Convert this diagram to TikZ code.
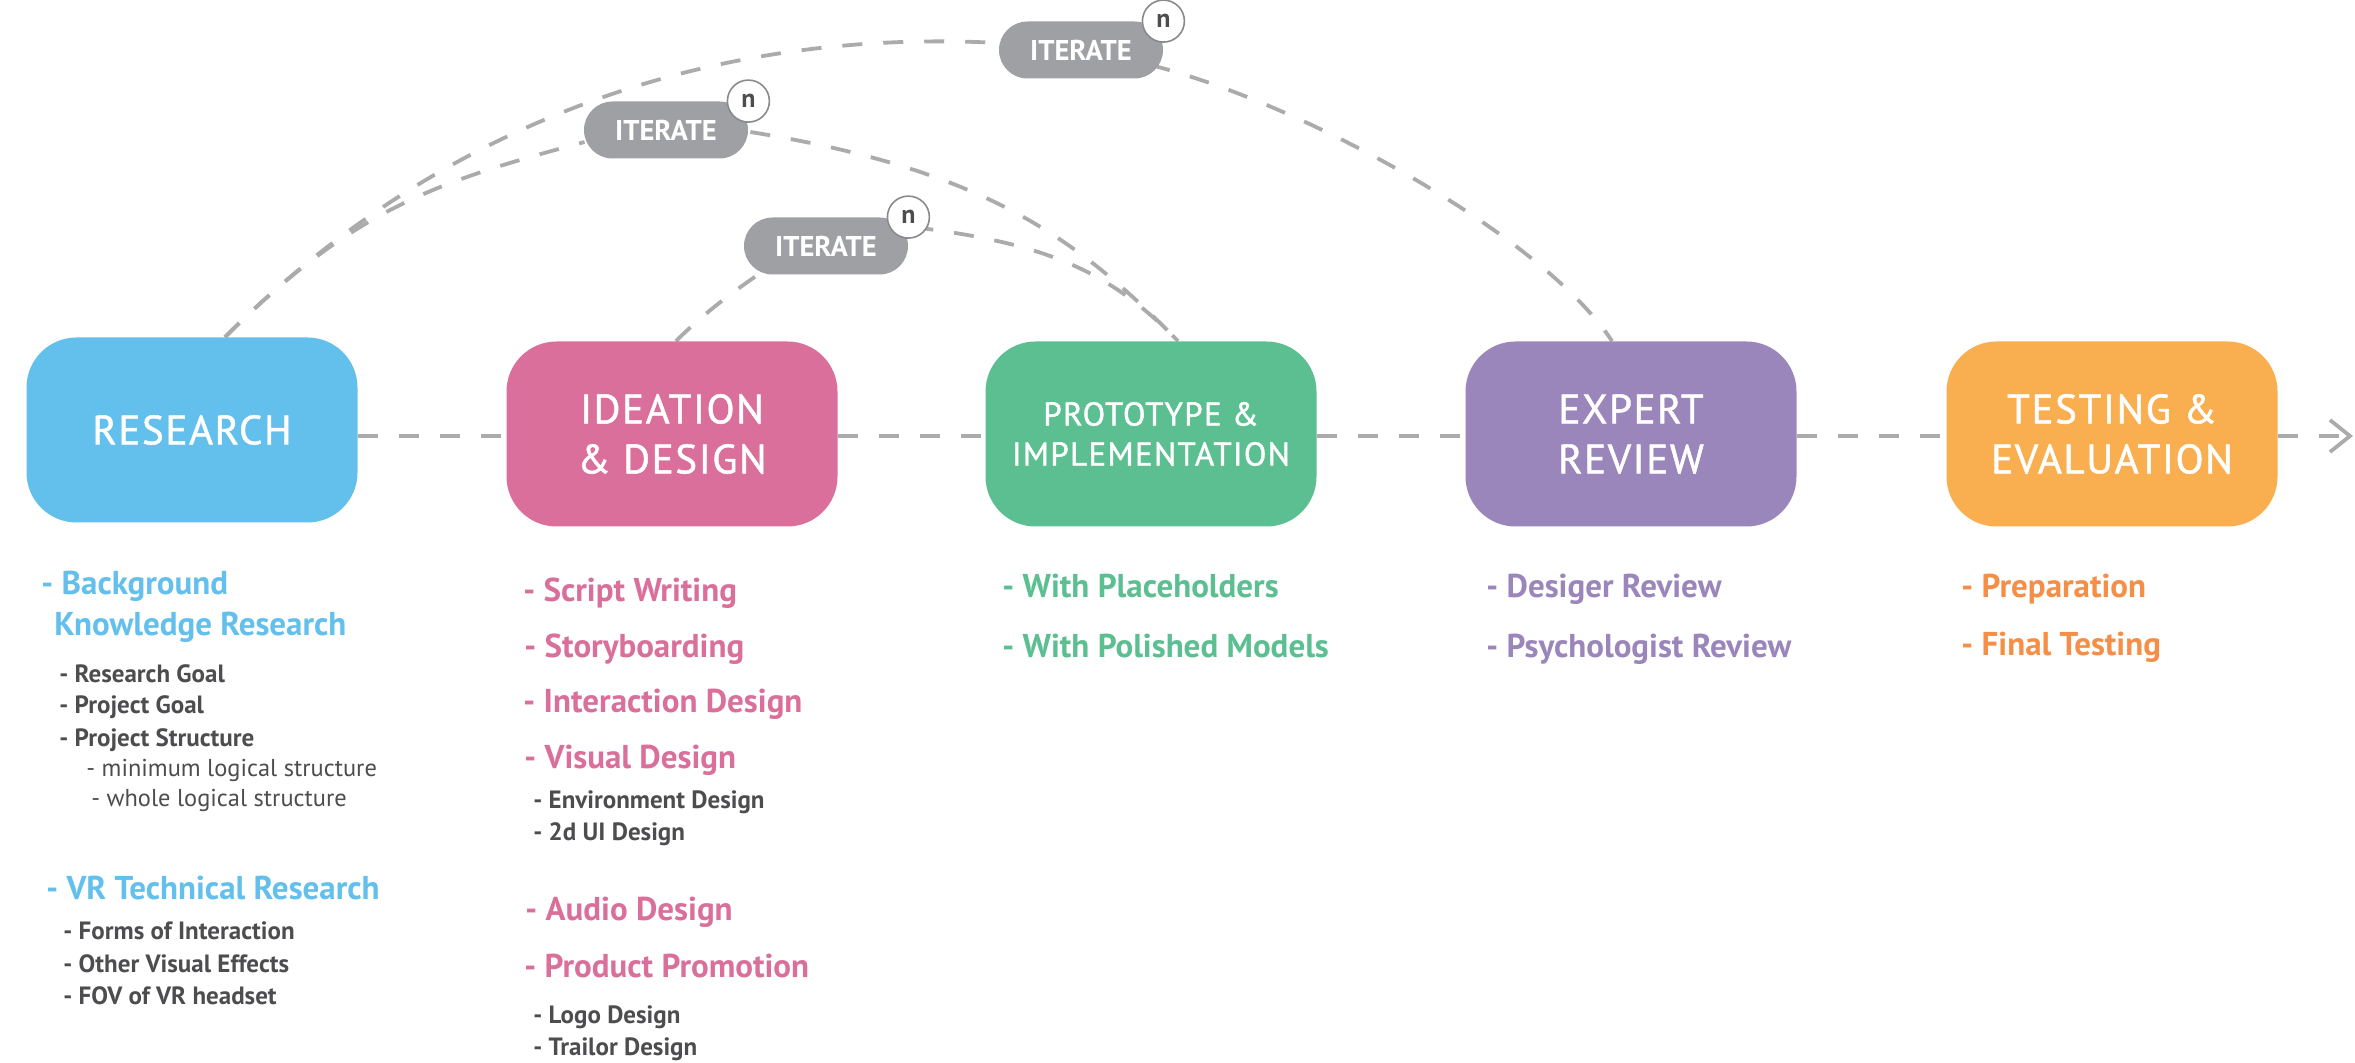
\documentclass[tikz,border=0pt]{standalone}
\usepackage{fontspec}
\setmainfont{PT Sans}
\newfontfamily\titlefont[LetterSpace=4,FakeBold=1.2]{PT Sans}
\usetikzlibrary{calc,arrows.meta}
\definecolor{cblue}{HTML}{63BFEC}
\definecolor{cpink}{HTML}{D96F9A}
\definecolor{cgreen}{HTML}{5BBF92}
\definecolor{cpurple}{HTML}{9B86BC}
\definecolor{corange}{HTML}{F9AF4F}
\definecolor{torange}{HTML}{F58E47}
\definecolor{tgray}{HTML}{4D4D4F}
\definecolor{pillgray}{HTML}{9FA0A3}
\definecolor{lgray}{HTML}{ABABAB}
\definecolor{circgray}{HTML}{8A8A8D}
\pgfdeclarelayer{bg}
\pgfdeclarelayer{back}
\pgfsetlayers{back,bg,main}
\begin{document}
\begin{tikzpicture}[x=0.5pt,y=-0.5pt,
  stage/.style={rectangle, rounded corners=25pt, minimum width=165.5pt, minimum height=92.5pt,
    inner sep=0pt, text=white, align=center, font=\titlefont\fontsize{20.5}{25}\selectfont},
  pill/.style={rectangle, rounded corners=14.25pt, fill=pillgray, minimum width=82pt,
    minimum height=28.5pt, inner sep=0pt, text=white, font=\bfseries\fontsize{14.3}{14.3}\selectfont},
  ncirc/.style={circle, draw=circgray, line width=0.8pt, fill=white, minimum size=21pt,
    inner sep=0pt, text=tgray, font=\bfseries\fontsize{13}{13}\selectfont},
  dline/.style={draw=lgray, line width=1.9pt, dash pattern=on 10pt off 10.5pt},
  head/.style={anchor=base west, inner sep=0pt, font=\bfseries\fontsize{16.5}{20}\selectfont},
  sub/.style={anchor=base west, inner sep=0pt, text=tgray, font=\bfseries\fontsize{12.5}{15}\selectfont},
  subr/.style={anchor=base west, inner sep=0pt, text=tgray, font=\fontsize{12.2}{15}\selectfont}]
\begin{pgfonlayer}{back}
\fill[white] (0,0) rectangle (2355,1063);
\end{pgfonlayer}
\useasboundingbox (0,0) rectangle (2355,1063);

% stages
\node[stage, fill=cblue] (research) at (192,430) {RESEARCH};
\node[stage, fill=cpink] (ideation) at (672,434) {IDEATION\\\& DESIGN};
\node[stage, fill=cgreen, font=\titlefont\fontsize{16.5}{20}\selectfont] (proto) at (1151,434) {PROTOTYPE \&\\IMPLEMENTATION};
\node[stage, fill=cpurple] (expert) at (1631,434) {EXPERT\\REVIEW};
\node[stage, fill=corange] (testing) at (2112,434) {TESTING \&\\EVALUATION};
\coordinate (arrowend) at (2353,436);

% iterate pills
\node[pill] (it1) at (826,246) {ITERATE};
\node[pill] (it2) at (666,130) {ITERATE};
\node[pill] (it3) at (1081,50) {ITERATE};
\node[ncirc] (n1) at (it1.north east) {n};
\node[ncirc] (n2) at (it2.north east) {n};
\node[ncirc] (n3) at (it3.north east) {n};

% connectors
\begin{pgfonlayer}{bg}
\draw[dline] ($(research.east |- ideation.west)+(0,2)$) -- ($(ideation.west)+(0,2)$);
\draw[dline] ($(ideation.east)+(0,2)$) -- ($(proto.west)+(0,2)$);
\draw[dline] ($(proto.east)+(0,2)$) -- ($(expert.west)+(0,2)$);
\draw[dline] ($(expert.east)+(0,2)$) -- ($(testing.west)+(0,2)$);
\draw[dline, -{Straight Barb[length=10pt,width=16pt,line width=1.9pt]}] ($(testing.east)+(0,2)$) -- (arrowend);

\draw[dline] ($(research.north)+(33,0)$) .. controls +(220,-220) and +(-279,-15) .. ($(it3.west)+(0,-7)$);
\draw[dline] ($(it3.east)+(-13,15)$) .. controls +(155,39) and +(-68,-104) .. ($(expert.north)+(-19,0)$);
\draw[dline] ($(research.north)+(33,0)$) .. controls +(130,-130) and +(-145,39) .. ($(it2.west)+(1,12)$);
\draw[dline] ($(it2.east)+(2,2)$) .. controls +(228,37) and +(-105,-108) .. ($(proto.north)+(27,0)$);
\draw[dline] ($(ideation.north)+(4,0)$) .. controls +(30,-30) and +(-30,20) .. ($(it1.south west)+(26,-8)$);
\draw[dline] ($(n1.center)+(5,10)$) .. controls +(130,16) and +(-70,-72) .. ($(proto.north)+(27,0)$);
\end{pgfonlayer}

% research list
\node[head, text=cblue] (r1) at (41,595) {- Background};
\node[head, text=cblue] (r2) at (54,635) {Knowledge Research};
\node[sub] (r3) at (59,682) {- Research Goal};
\node[sub] (r4) at (59,713) {- Project Goal};
\node[sub] (r5) at (59,746) {- Project Structure};
\node[subr] (r6) at (86,776) {- minimum logical structure};
\node[subr] (r7) at (91,806) {- whole logical structure};
\node[head, text=cblue] (r8) at (46,899) {- VR Technical Research};
\node[sub] (r9) at (63,939) {- Forms of Interaction};
\node[sub] (r10) at (63,972) {- Other Visual Effects};
\node[sub] (r11) at (63,1004) {- FOV of VR headset};

% ideation list
\node[head, text=cpink] (i1) at (523,602) {- Script Writing};
\node[head, text=cpink] (i2) at (524,657) {- Storyboarding};
\node[head, text=cpink] (i3) at (523,712) {- Interaction Design};
\node[head, text=cpink] (i4) at (524,768) {- Visual Design};
\node[sub] (i5) at (533,808) {- Environment Design};
\node[sub] (i6) at (533,840) {- 2d UI Design};
\node[head, text=cpink] (i7) at (525,920) {- Audio Design};
\node[head, text=cpink] (i8) at (524,977) {- Product Promotion};
\node[sub] (i9) at (533,1023) {- Logo Design};
\node[sub] (i10) at (533,1055) {- Trailor Design};

% prototype list
\node[head, text=cgreen] (p1) at (1002,597) {- With Placeholders};
\node[head, text=cgreen] (p2) at (1002,657) {- With Polished Models};

% expert list
\node[head, text=cpurple] (e1) at (1486,597) {- Desiger Review};
\node[head, text=cpurple] (e2) at (1486,657) {- Psychologist Review};

% testing list
\node[head, text=torange] (t1) at (1961,597) {- Preparation};
\node[head, text=torange] (t2) at (1961,655) {- Final Testing};
\end{tikzpicture}
\end{document}
